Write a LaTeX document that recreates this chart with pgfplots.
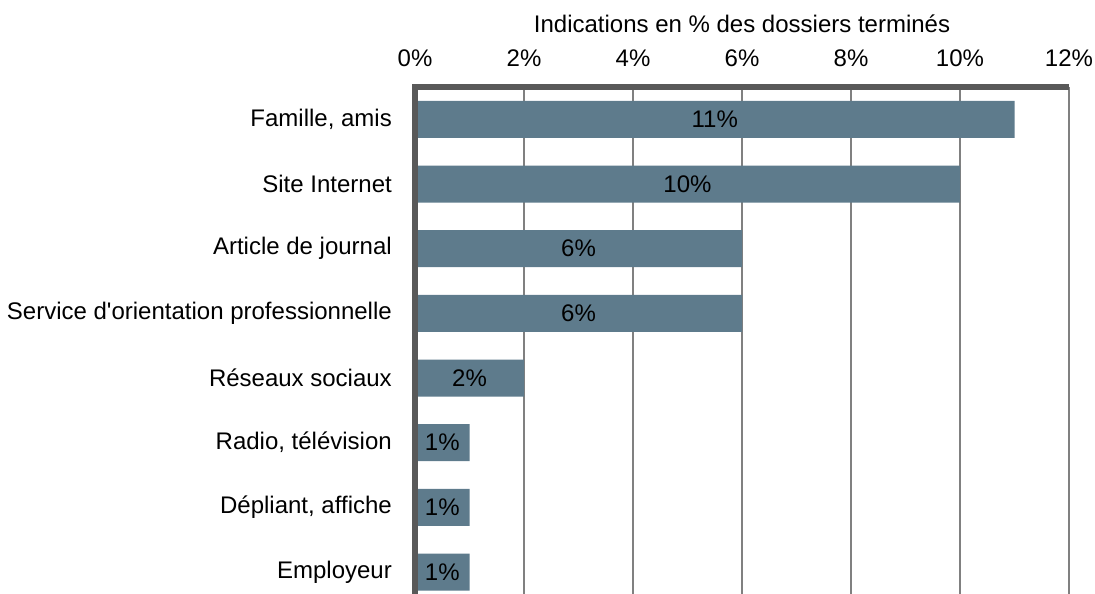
\documentclass[border=0pt]{standalone}
\usepackage{fontspec}
\setmainfont{Liberation Sans}
\usepackage{pgfplots}
\usepackage{pgfplotstable}
\pgfplotsset{compat=1.18}
\definecolor{barc}{RGB}{94,123,140}
\definecolor{gridc}{RGB}{128,128,128}
\definecolor{axc}{RGB}{89,89,89}
\pgfplotstableread{
idx val lab
0 11 11
1 10 10
2 6 6
3 6 6
4 2 2
5 1 1
6 1 1
7 1 1
}\datatable
\begin{document}
\begin{tikzpicture}
\begin{axis}[
  at={(415bp,0bp)}, anchor=south west,
  scale only axis, width=654bp, height=507bp,
  xmin=0, xmax=12, ymin=-0.5, ymax=7.34, y dir=reverse,
  bar width=37bp,
  xtick={0,2,...,12},
  xticklabel pos=right,
  xticklabel={\pgfmathprintnumber{\tick}\%},
  /pgf/number format/assume math mode=true,
  ytick={0,...,7},
  yticklabels={{Famille, amis},{Site Internet},{Article de journal},{Service d\textquotesingle orientation professionnelle},{Réseaux sociaux},{Radio, télévision},{Dépliant, affiche},{Employeur}},
  major tick length=0pt,
  xmajorgrids, grid style={draw=gridc, line width=1.6bp},
  axis line style={draw=none},
  tick label style={font=\fontsize{24bp}{28bp}\selectfont},
  xticklabel style={anchor=base, inner sep=0pt, yshift=21bp},
  yticklabel style={anchor=east, inner sep=0pt, xshift=-23bp},
  clip=false,
]
\addplot[xbar, fill=barc, draw=none] table[x=val, y=idx]{\datatable};
\addplot[only marks, mark=*, mark size=0pt, mark options={draw=none, fill=none},
  nodes near coords={\pgfplotspointmeta\%}, point meta=explicit symbolic,
  nodes near coords align=center,
  every node near coord/.append style={font=\fontsize{24bp}{28bp}\selectfont, text=black}]
  table[x expr=\thisrow{val}/2, y=idx, meta=lab]{\datatable};
\draw[axc, line width=5bp] (axis description cs:0,0) -- (axis description cs:0,1) -- (axis description cs:1,1);
\node[anchor=base, font=\fontsize{24bp}{28bp}\selectfont, inner sep=0pt] at ([yshift=54bp]axis description cs:0.5,1) {Indications en \% des dossiers terminés};
\end{axis}
\pgfresetboundingbox
\useasboundingbox (0,0) rectangle (1095bp,594bp);
\end{tikzpicture}
\end{document}
